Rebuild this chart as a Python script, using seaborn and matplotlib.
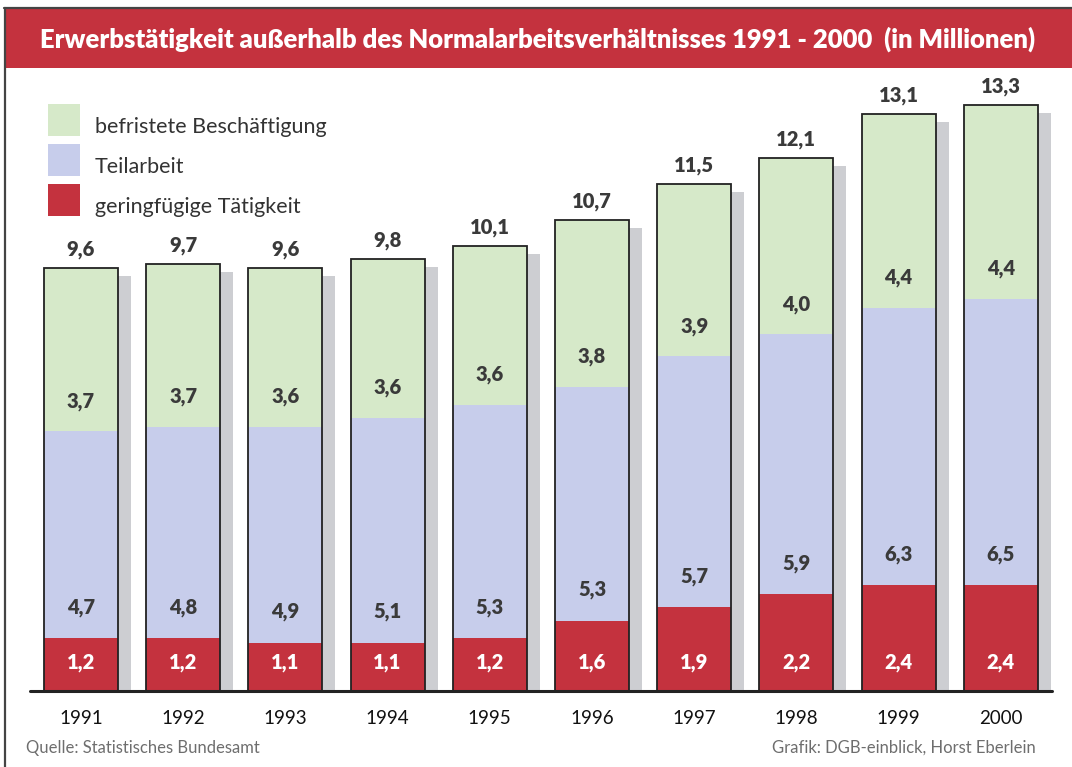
import numpy as np
import matplotlib
matplotlib.use("Agg")
import matplotlib.pyplot as plt
import matplotlib.transforms as mtransforms
from matplotlib.patches import Rectangle
from matplotlib.lines import Line2D
import seaborn as sns

# Data (Mio.)
years = ["1991", "1992", "1993", "1994", "1995", "1996", "1997", "1998", "1999", "2000"]
geringfuegig = [1.2, 1.2, 1.1, 1.1, 1.2, 1.6, 1.9, 2.2, 2.4, 2.4]
teilarbeit = [4.7, 4.8, 4.9, 5.1, 5.3, 5.3, 5.7, 5.9, 6.3, 6.5]
befristet = [3.7, 3.7, 3.6, 3.6, 3.6, 3.8, 3.9, 4.0, 4.4, 4.4]
totals = [9.6, 9.7, 9.6, 9.8, 10.1, 10.7, 11.5, 12.1, 13.1, 13.3]
series_names = ["befristete Beschäftigung", "Teilarbeit", "geringfügige Tätigkeit"]

title = "Erwerbstätigkeit außerhalb des Normalarbeitsverhältnisses 1991 - 2000  (in Millionen)"
source = "Quelle: Statistisches Bundesamt"
credit = "Grafik: DGB-einblick, Horst Eberlein"

# Style
GREEN = "#d6e9c9"
BLUE = "#c7cdeb"
RED = "#c4323e"
SHADOW = "#cdced2"
EDGE = "#222222"
TXT = "#3a3a3a"
LBL = dict(fontsize=14.5, fontweight="heavy")

sns.set_style("white")
plt.rcParams["font.family"] = ["Lato", "DejaVu Sans"]

W, H, DPI = 1072, 767, 100
fig = plt.figure(figsize=(W / DPI, H / DPI), dpi=DPI)

# axes: baseline at 691 px from top, banner bottom at 68 px
base_px, top_px = 691, 68
ax = fig.add_axes([0, (H - base_px) / H, 1, (base_px - top_px) / H])
px_per_unit = 44.06
step_px, first_px = 102.2, 81.0

lower = np.array(geringfuegig)
middle = lower + np.array(teilarbeit)
upper = middle + np.array(befristet)
bar_w = 74 / step_px

# shadows (shifted right, slightly lower top)
dy = 8 / px_per_unit
sns.barplot(x=years, y=upper - dy, color=SHADOW, saturation=1, width=bar_w,
            errorbar=None, ax=ax, linewidth=0)
shift = mtransforms.offset_copy(ax.transData, fig=fig, x=13, y=0, units="dots")
for p in ax.containers[-1]:
    p.set_transform(shift)

sns.barplot(x=years, y=upper, color=GREEN, saturation=1, width=bar_w,
            errorbar=None, ax=ax, linewidth=0)
sns.barplot(x=years, y=middle, color=BLUE, saturation=1, width=bar_w,
            errorbar=None, ax=ax, linewidth=0)
sns.barplot(x=years, y=lower, color=RED, saturation=1, width=bar_w,
            errorbar=None, ax=ax, linewidth=0)
# outline of each stack
ax.bar(np.arange(len(years)), upper, width=bar_w, facecolor="none",
       edgecolor=EDGE, linewidth=1.3, zorder=3)

ax.set_xlim(-first_px / step_px, (W - first_px) / step_px)
ax.set_ylim(0, (base_px - top_px) / px_per_unit)

# baseline
ax.axhline(0, xmin=30 / W, xmax=1052 / W, color=EDGE, linewidth=2.2, zorder=4,
           clip_on=False)

fmt = lambda v: f"{v:.1f}".replace(".", ",")
for i in range(len(years)):
    ax.annotate(fmt(totals[i]), (i, upper[i]), xytext=(0, 9), textcoords="offset pixels",
                ha="center", va="bottom", color=TXT, **LBL)
    ax.annotate(fmt(befristet[i]), (i, middle[i]), xytext=(0, 30), textcoords="offset pixels",
                ha="center", va="center", color=TXT, **LBL)
    ax.annotate(fmt(teilarbeit[i]), (i, lower[i]), xytext=(0, 31), textcoords="offset pixels",
                ha="center", va="center", color=TXT, **LBL)
    ax.annotate(fmt(geringfuegig[i]), (i, 0), xytext=(0, 28), textcoords="offset pixels",
                ha="center", va="center", color="white", **LBL)

for s in ax.spines.values():
    s.set_visible(False)
ax.set_yticks([])
ax.set_xticks(range(len(years)))
ax.set_xticklabels(years)
ax.tick_params(axis="x", length=0, pad=14, labelsize=13.5, labelcolor="#111111")
ax.set_xlabel("")
ax.set_ylabel("")

# banner and frame
fig.add_artist(Rectangle((6 / W, 1 - 68 / H), 1, 59 / H, transform=fig.transFigure,
                         facecolor=RED, edgecolor="none"))
fig.add_artist(Line2D([4.5 / W, 4.5 / W], [0, 1 - 8 / H], transform=fig.transFigure,
                      color="#444444", linewidth=1.6))
fig.add_artist(Line2D([3.5 / W, 1], [1 - 8 / H, 1 - 8 / H], transform=fig.transFigure,
                      color="#444444", linewidth=1.6))
t = fig.text(538 / W, 1 - 39 / H, title, ha="center", va="center", color="white",
             fontsize=18, fontweight="heavy")
fig.canvas.draw()
tw = t.get_window_extent().width
t.set_fontsize(18 * 992 / tw)

# legend
legend_colors = [GREEN, BLUE, RED]
for k, (name, c) in enumerate(zip(series_names, legend_colors)):
    y0 = 104 + 40 * k
    fig.add_artist(Rectangle((48 / W, 1 - (y0 + 32) / H), 32 / W, 32 / H,
                             transform=fig.transFigure, facecolor=c, edgecolor="none"))
    fig.text(95 / W, 1 - (y0 + 23) / H, name, ha="left", va="center",
             fontsize=15.5, color="#333333")

fig.text(26 / W, 1 - 748 / H, source, ha="left", va="center", fontsize=12, color="#6e6e6e")
fig.text(1036 / W, 1 - 748 / H, credit, ha="right", va="center", fontsize=12, color="#6e6e6e")

fig.savefig("out.png", dpi=DPI)
